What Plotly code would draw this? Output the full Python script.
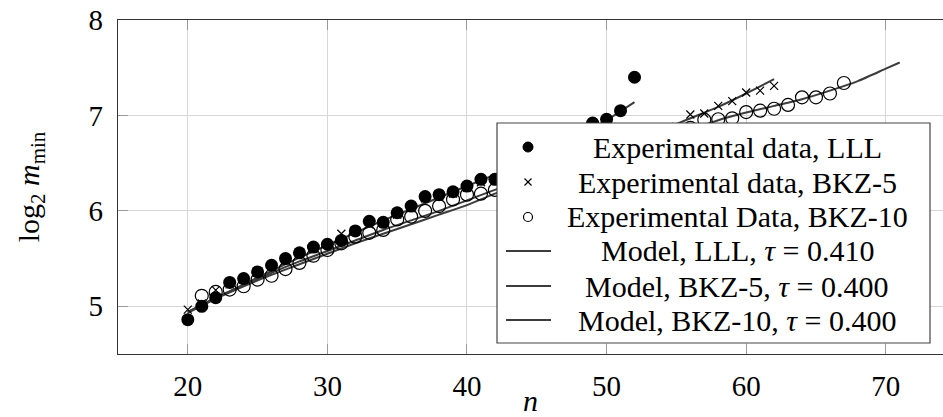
import plotly.graph_objects as go

# ---- experimental data: log2 of the minimal m versus dimension n ----
n_lll = list(range(20, 53))
lll = [4.86, 5.00, 5.09, 5.25, 5.29, 5.36, 5.43, 5.50, 5.56, 5.62, 5.65, 5.69,
       5.79, 5.89, 5.88, 5.98, 6.05, 6.15, 6.17, 6.20, 6.26, 6.33, 6.33,
       6.40, 6.46, 6.53, 6.62, 6.70, 6.80, 6.92, 6.96, 7.05, 7.40]

n_bkz5 = list(range(20, 63))
bkz5 = [4.965, 5.03, 5.17, 5.23, 5.28, 5.35, 5.42, 5.48, 5.55, 5.60, 5.65, 5.76,
        5.78, 5.86, 5.87, 5.96, 6.03, 6.13, 6.15, 6.18, 6.24, 6.30, 6.32,
        6.37, 6.42, 6.48, 6.55, 6.61, 6.67, 6.73, 6.78, 6.81, 6.83, 6.83, 6.86,
        6.88, 7.01, 7.02, 7.10, 7.15, 7.24, 7.26, 7.31]

n_bkz10 = list(range(21, 68))
bkz10 = [5.11, 5.15, 5.175, 5.21, 5.28, 5.32, 5.39, 5.455, 5.53, 5.59, 5.66,
         5.73, 5.77, 5.80, 5.91, 5.94, 6.00, 6.05, 6.12, 6.17, 6.18, 6.22,
         6.27, 6.32, 6.37, 6.42, 6.48, 6.54, 6.59, 6.64, 6.69, 6.74, 6.78, 6.81,
         6.84, 6.87, 6.955, 6.96, 6.97, 7.035, 7.05, 7.07, 7.11, 7.19, 7.19,
         7.23, 7.34]

# ---- model curves ----
n_mod_lll = [20, 22, 24, 26, 28, 30, 32, 34, 36, 38, 40, 42, 44, 46, 48, 50, 52]
mod_lll = [4.93, 5.08, 5.23, 5.37, 5.51, 5.64, 5.77, 5.90, 6.02, 6.14, 6.26,
           6.38, 6.51, 6.64, 6.78, 6.95, 7.14]

n_mod_bkz5 = [20, 22, 24, 26, 28, 30, 32, 34, 36, 38, 40, 42, 44, 46, 48, 50,
              52, 54, 56, 58, 60, 62]
mod_bkz5 = [4.94, 5.09, 5.22, 5.35, 5.47, 5.58, 5.69, 5.80, 5.90, 6.00, 6.11,
            6.22, 6.32, 6.43, 6.54, 6.64, 6.74, 6.85, 6.97, 7.09, 7.23, 7.38]

n_mod_bkz10 = [20, 22, 24, 26, 28, 30, 32, 34, 36, 38, 40, 42, 44, 46, 48, 50,
               52, 54, 56, 58, 60, 62, 64, 66, 68, 70, 71]
mod_bkz10 = [4.94, 5.08, 5.21, 5.33, 5.44, 5.55, 5.66, 5.76, 5.86, 5.96, 6.06,
             6.18, 6.28, 6.38, 6.48, 6.57, 6.66, 6.75, 6.85, 6.95, 7.03, 7.10,
             7.17, 7.26, 7.36, 7.49, 7.555]

legend_labels = [
    "Experimental data, LLL",
    "Experimental data, BKZ-5",
    "Experimental Data, BKZ-10",
    "Model, LLL, <i>τ</i> = 0.410",
    "Model, BKZ-5, <i>τ</i> = 0.400",
    "Model, BKZ-10, <i>τ</i> = 0.400",
]

x_ticks = [20, 30, 40, 50, 60, 70]
y_ticks = [5, 6, 7, 8]

FONT = "Liberation Serif"
LINE_COLOR = "#3c3c3c"
W, H = 943, 417
ML, MR, MT, MB = 118, 0, 20, 63
PW, PH = W - ML - MR, H - MT - MB


def px(x):
    return (x - ML) / PW


def py(y):
    return (H - MB - y) / PH


fig = go.Figure()

line_style = dict(color=LINE_COLOR, width=2, shape="spline", smoothing=0.6)
fig.add_trace(go.Scatter(x=n_mod_lll, y=mod_lll, mode="lines", line=line_style,
                         name="Model, LLL"))
fig.add_trace(go.Scatter(x=n_mod_bkz5, y=mod_bkz5, mode="lines", line=line_style,
                         name="Model, BKZ-5"))
fig.add_trace(go.Scatter(x=n_mod_bkz10, y=mod_bkz10, mode="lines", line=line_style,
                         name="Model, BKZ-10"))
fig.add_trace(go.Scatter(x=n_lll, y=lll, mode="markers", name="LLL",
                         marker=dict(symbol="circle", size=13, color="black")))
fig.add_trace(go.Scatter(x=n_bkz5, y=bkz5, mode="markers", name="BKZ-5",
                         marker=dict(symbol="x-thin", size=8,
                                     line=dict(color="black", width=1.2))))
fig.add_trace(go.Scatter(x=n_bkz10, y=bkz10, mode="markers", name="BKZ-10",
                         marker=dict(symbol="circle-open", size=13,
                                     color="black", line=dict(width=1.2))))

# ---- legend box drawn on top of the traces ----
box = dict(x0=497, x1=930, y0=123, y1=343)
row_y = [147, 182, 217, 251, 286, 320]
sym_x = 528
text_x = 737

shapes = [dict(type="rect", xref="paper", yref="paper", layer="above",
               x0=px(box["x0"]), x1=px(box["x1"]),
               y0=py(box["y1"]), y1=py(box["y0"]),
               fillcolor="white", line=dict(color="#444", width=1.2))]

# filled dot
r = 5
shapes.append(dict(type="circle", xref="paper", yref="paper", layer="above",
                   x0=px(sym_x - r), x1=px(sym_x + r),
                   y0=py(row_y[0] + r), y1=py(row_y[0] - r),
                   fillcolor="black", line=dict(color="black", width=1)))
# cross
c = 3.5
for dx in (-1, 1):
    shapes.append(dict(type="line", xref="paper", yref="paper", layer="above",
                       x0=px(sym_x - c), x1=px(sym_x + c),
                       y0=py(row_y[1] - dx * c), y1=py(row_y[1] + dx * c),
                       line=dict(color="black", width=1.2)))
# open circle
r2 = 4.5
shapes.append(dict(type="circle", xref="paper", yref="paper", layer="above",
                   x0=px(sym_x - r2), x1=px(sym_x + r2),
                   y0=py(row_y[2] + r2), y1=py(row_y[2] - r2),
                   fillcolor="white", line=dict(color="black", width=1.2)))
# model lines
for yy in row_y[3:]:
    shapes.append(dict(type="line", xref="paper", yref="paper", layer="above",
                       x0=px(506), x1=px(551), y0=py(yy), y1=py(yy),
                       line=dict(color=LINE_COLOR, width=2)))

annotations = []
for label, yy in zip(legend_labels, row_y):
    annotations.append(dict(text=label, xref="paper", yref="paper",
                            x=px(text_x), y=py(yy), xanchor="center",
                            yanchor="middle", showarrow=False,
                            font=dict(family=FONT, size=30, color="black")))

fig.update_layout(
    width=W, height=H,
    margin=dict(l=ML, r=MR, t=MT, b=MB, autoexpand=False),
    paper_bgcolor="white", plot_bgcolor="white",
    showlegend=False,
    shapes=shapes,
    annotations=annotations,
    font=dict(family=FONT, size=28, color="black"),
)

axis_common = dict(
    showgrid=True, gridcolor="#d6d6d6", gridwidth=1,
    showline=True, linecolor="#333", linewidth=1.2,
    ticks="inside", ticklen=10, tickcolor="#999", tickwidth=1,
    zeroline=False, automargin=False,
    tickfont=dict(family=FONT, size=29, color="black"),
)

fig.update_xaxes(range=[15, 74.1], tickvals=x_ticks, mirror="ticks",
                 title=dict(text="<i>n</i>", standoff=11,
                            font=dict(family=FONT, size=30)),
                 ticklabelstandoff=6, **axis_common)
fig.update_yaxes(range=[4.5, 8], tickvals=y_ticks, mirror=False,
                 title=dict(text="log<sub>2</sub> <i>m</i><sub>min</sub>",
                            standoff=40, font=dict(family=FONT, size=30)),
                 ticklabelstandoff=8, **axis_common)

fig.write_html("out.html")
